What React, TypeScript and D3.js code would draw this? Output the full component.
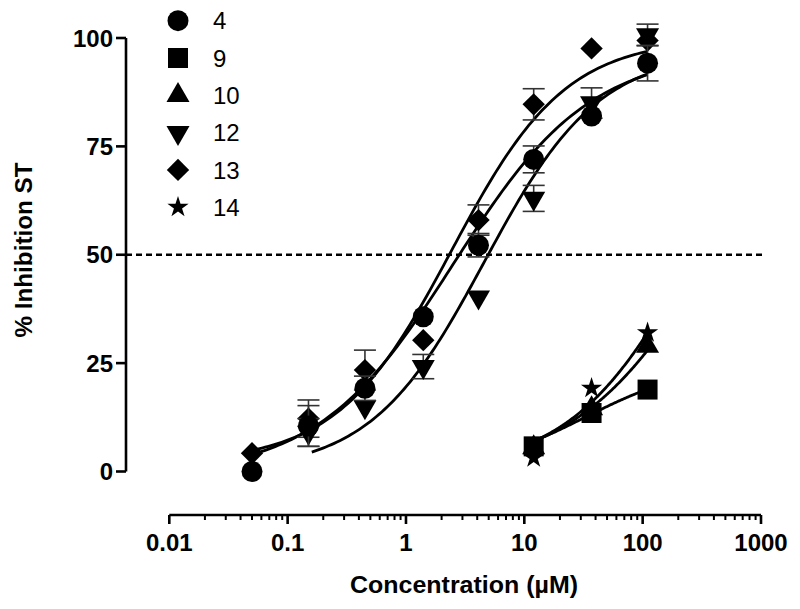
import React from "react";
import * as d3 from "d3";

// ---------- data ----------
const compounds = ["4", "9", "10", "12", "13", "14"];
const symbolKinds = ["circle", "square", "triangle", "triangleDown", "diamond", "star"];

const conc4 = [0.05, 0.15, 0.45, 1.4, 4.1, 12, 37, 110];
const inhib4 = [0, 10.5, 19.2, 35.7, 52.2, 72, 82, 94.2];
const sem4 = [0, 4.7, 2.8, 0, 2.7, 3.1, 0, 4.1];

const conc9 = [12, 37, 110];
const inhib9 = [5.8, 13.5, 18.9];
const sem9 = [0, 0, 0];

const conc10 = [12, 37, 110];
const inhib10 = [5.5, 14.5, 28.9];
const sem10 = [0, 0, 0];

const conc12 = [0.15, 0.45, 1.4, 4.1, 12, 37, 110];
const inhib12 = [9, 14.9, 24.2, 40.2, 63, 85, 100.7];
const sem12 = [3.2, 0, 2.8, 0, 3, 3.5, 2.5];

const conc13 = [0.05, 0.15, 0.45, 1.4, 4.1, 12, 37, 110];
const inhib13 = [4.2, 12.2, 23.4, 30.3, 58, 84.7, 97.6, 99.4];
const sem13 = [0, 4.3, 4.6, 0, 3.5, 3.6, 0, 0];

const conc14 = [12, 37, 110];
const inhib14 = [3.2, 19.2, 32];
const sem14 = [0, 0, 0];

// 4-parameter logistic fit parameters (compound order)
const fitBottom = [-1, 0, 0, 0, 2, 0];
const fitTop = [97, 25, 100, 97, 100, 100];
const fitIC50 = [2.53, 32.6, 395, 4.62, 2.43, 273];
const fitHill = [0.75, 0.945, 0.74, 0.9, 0.9, 0.83];
const fitFrom = [0.05, 12, 12, 0.16, 0.05, 12];
const fitTo = [110, 110, 110, 110, 110, 110];

const xTicks = [0.01, 0.1, 1, 10, 100, 1000];
const xTickLabels = ["0.01", "0.1", "1", "10", "100", "1000"];
const yTicks = [0, 25, 50, 75, 100];
const threshold = 50;

const xTitle = "Concentration (µM)";
const yTitle = "% Inhibition ST";

// ---------- layout ----------
const W = 800;
const H = 609;
const FONT = "'Liberation Sans', Arial, Helvetica, sans-serif";

const concs = [conc4, conc9, conc10, conc12, conc13, conc14];
const inhibs = [inhib4, inhib9, inhib10, inhib12, inhib13, inhib14];
const sems = [sem4, sem9, sem10, sem12, sem13, sem14];

function symbolPath(kind: string): { d: string; rot: number } {
  switch (kind) {
    case "circle":
      return { d: d3.symbol(d3.symbolCircle, 346)()!, rot: 0 };
    case "square":
      return { d: d3.symbol(d3.symbolSquare, 400)()!, rot: 0 };
    case "triangle":
      return { d: d3.symbol(d3.symbolTriangle, 230)()!, rot: 0 };
    case "triangleDown":
      return { d: d3.symbol(d3.symbolTriangle, 230)()!, rot: 180 };
    case "diamond":
      return { d: d3.symbol(d3.symbolSquare, 250)()!, rot: 45 };
    default:
      return { d: d3.symbol(d3.symbolStar, 140)()!, rot: 0 };
  }
}

export default function App() {
  const x = d3.scaleLog().domain([0.01, 1000]).range([169.3, 761]);
  const y = d3.scaleLinear().domain([0, 100]).range([471.5, 38]);
  const xAxisY = 515;
  const yAxisX = 126;

  const minorTicks: number[] = [];
  for (let e = -2; e < 3; e++) {
    for (let m = 2; m <= 9; m++) minorTicks.push(m * Math.pow(10, e));
  }

  const line = d3
    .line<[number, number]>()
    .x((d) => x(d[0]))
    .y((d) => y(d[1]))
    .curve(d3.curveLinear);

  const curves = compounds.map((_, i) => {
    const lo = Math.log10(fitFrom[i]);
    const hi = Math.log10(fitTo[i]);
    const pts: [number, number][] = d3.range(0, 121).map((k) => {
      const lx = lo + ((hi - lo) * k) / 120;
      const c = Math.pow(10, lx);
      const v =
        fitBottom[i] +
        (fitTop[i] - fitBottom[i]) / (1 + Math.pow(fitIC50[i] / c, fitHill[i]));
      return [c, v];
    });
    return line(pts)!;
  });

  // draw later series first so that earlier ones sit on top
  const drawOrder = d3.range(compounds.length).reverse();
  const capW = 11;

  return (
    <svg
      width={W}
      height={H}
      style={{ position: "absolute", left: 0, top: 0, background: "#fff" }}
      fontFamily={FONT}
    >
      <rect x={0} y={0} width={W} height={H} fill="#fff" />

      {/* threshold line */}
      <line
        x1={yAxisX}
        x2={763}
        y1={y(threshold)}
        y2={y(threshold)}
        stroke="#000"
        strokeWidth={2.6}
        strokeDasharray="6 4"
      />

      {/* fitted curves */}
      {curves.map((d, i) => (
        <path key={"c" + i} d={d} fill="none" stroke="#000" strokeWidth={2.8} />
      ))}

      {/* error bars and points */}
      {drawOrder.map((i) => {
        const sp = symbolPath(symbolKinds[i]);
        return (
          <g key={"s" + i}>
            {concs[i].map((c, j) =>
              sems[i][j] > 0 ? (
                <g key={"e" + j} stroke="#333" strokeWidth={1.6}>
                  <line
                    x1={x(c)}
                    x2={x(c)}
                    y1={y(inhibs[i][j] - sems[i][j])}
                    y2={y(inhibs[i][j] + sems[i][j])}
                  />
                  <line
                    x1={x(c) - capW}
                    x2={x(c) + capW}
                    y1={y(inhibs[i][j] + sems[i][j])}
                    y2={y(inhibs[i][j] + sems[i][j])}
                  />
                  <line
                    x1={x(c) - capW}
                    x2={x(c) + capW}
                    y1={y(inhibs[i][j] - sems[i][j])}
                    y2={y(inhibs[i][j] - sems[i][j])}
                  />
                </g>
              ) : null
            )}
            {concs[i].map((c, j) => (
              <path
                key={"p" + j}
                d={sp.d}
                transform={`translate(${x(c)},${y(inhibs[i][j])}) rotate(${sp.rot})`}
                fill="#000"
              />
            ))}
          </g>
        );
      })}

      {/* y axis */}
      <line x1={yAxisX} x2={yAxisX} y1={y(0)} y2={y(100)} stroke="#000" strokeWidth={2.6} />
      {yTicks.map((t) => (
        <g key={"yt" + t}>
          <line x1={yAxisX - 10} x2={yAxisX} y1={y(t)} y2={y(t)} stroke="#000" strokeWidth={2.6} />
          <text
            x={113}
            y={y(t) + 8.5}
            textAnchor="end"
            fontSize={24}
            fontWeight="bold"
          >
            {t}
          </text>
        </g>
      ))}

      {/* x axis */}
      <line x1={x(0.01)} x2={x(1000)} y1={xAxisY} y2={xAxisY} stroke="#000" strokeWidth={2.6} />
      {minorTicks.map((t, k) => (
        <line
          key={"mt" + k}
          x1={x(t)}
          x2={x(t)}
          y1={xAxisY}
          y2={xAxisY + 5}
          stroke="#000"
          strokeWidth={2}
        />
      ))}
      {xTicks.map((t, k) => (
        <g key={"xt" + k}>
          <line x1={x(t)} x2={x(t)} y1={xAxisY} y2={xAxisY + 9} stroke="#000" strokeWidth={2.6} />
          <text x={x(t)} y={551} textAnchor="middle" fontSize={24} fontWeight="bold">
            {xTickLabels[k]}
          </text>
        </g>
      ))}

      {/* axis titles */}
      <text
        x={464}
        y={593}
        textAnchor="middle"
        fontSize={23}
        fontWeight="bold"
        textLength={228}
        lengthAdjust="spacingAndGlyphs"
      >
        {xTitle}
      </text>
      <text
        transform="translate(32,250) rotate(-90)"
        textAnchor="middle"
        fontSize={24}
        fontWeight="bold"
        textLength={175}
        lengthAdjust="spacingAndGlyphs"
      >
        {yTitle}
      </text>

      {/* legend */}
      {compounds.map((name, i) => {
        const sp = symbolPath(symbolKinds[i]);
        const cy = 20.7 + i * 37.3;
        return (
          <g key={"lg" + i}>
            <path d={sp.d} transform={`translate(178,${cy}) rotate(${sp.rot})`} fill="#000" />
            <text x={213} y={cy + 8.6} fontSize={24}>
              {name}
            </text>
          </g>
        );
      })}
    </svg>
  );
}
